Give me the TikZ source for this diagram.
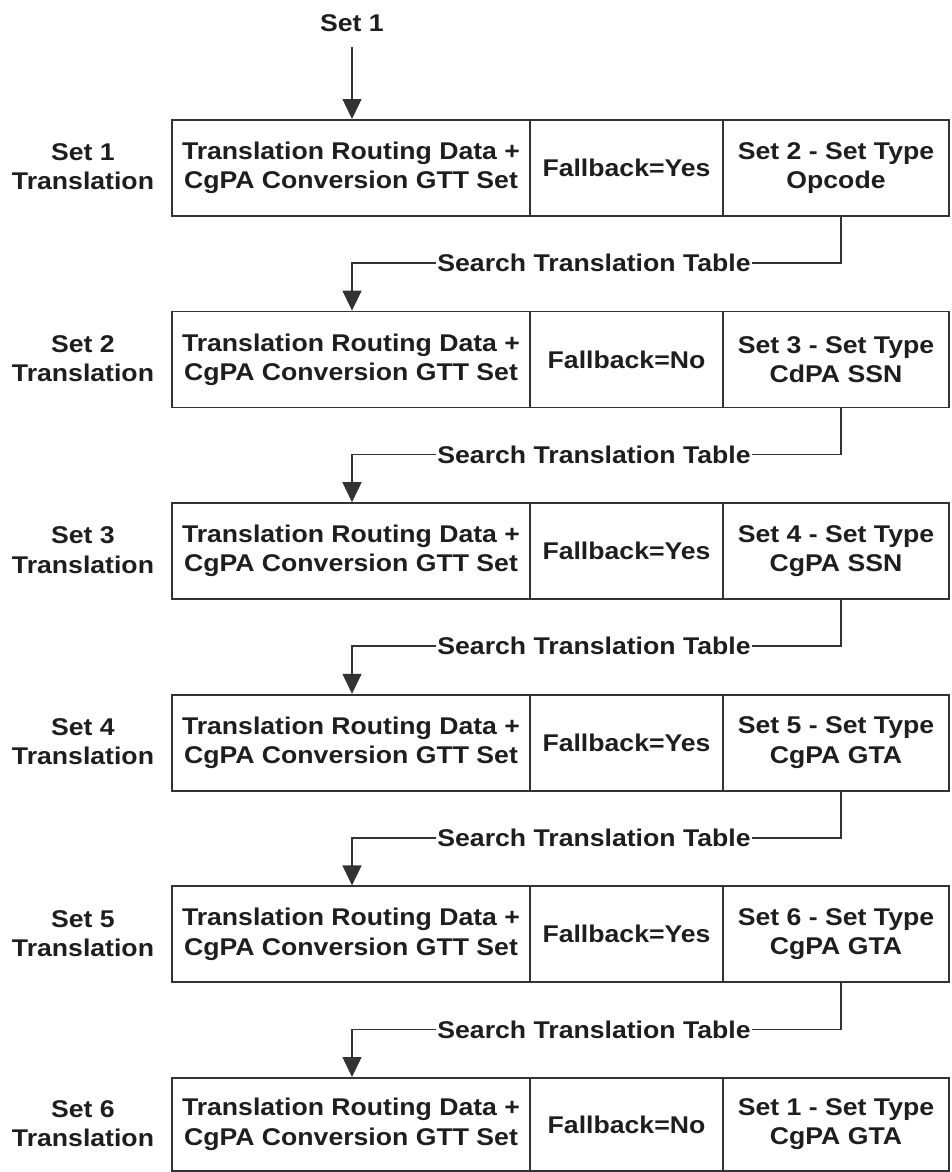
\documentclass[tikz,border=0pt]{standalone}
\usepackage{fontspec}
\newfontfamily\dfont{Liberation Sans}[FakeStretch=1.1]
\usetikzlibrary{arrows.meta}
\definecolor{ink}{HTML}{1E1E1E}
\definecolor{edge}{HTML}{333333}
\tikzset{
  txt/.style={font=\dfont\bfseries\fontsize{24.2}{29.3}\selectfont, text=ink, align=center, inner sep=1pt},
  cell/.style={txt, draw=edge, line width=1.8pt, inner sep=0pt, anchor=north},
  conn/.style={draw=edge, line width=1.5pt},
  arr/.style={conn, -{Triangle[length=20pt,width=19pt]}}
}
\newcommand{\tblrow}[6]{%
  \node[txt] (lbl-#1) at (83,#2+#6/2) {Set #1\\Translation};
  \node[cell, minimum width=358pt, minimum height=#6 pt] (c1-#1) at (351,#2) {Translation Routing Data +\\CgPA Conversion GTT Set};
  \node[cell, minimum width=193pt, minimum height=#6 pt] (c2-#1) at (626.5,#2) {Fallback=#3};
  \node[cell, minimum width=226pt, minimum height=#6 pt] (c3-#1) at (836,#2) {#4\\#5};
}
\begin{document}
\begin{tikzpicture}[x=1pt,y=-1pt]
\useasboundingbox (0,0) rectangle (951,1172);
\tblrow{1}{119}{Yes}{Set 2 - Set Type}{Opcode}{96}
\tblrow{2}{310.6}{No}{Set 3 - Set Type}{CdPA SSN}{96}
\tblrow{3}{502.2}{Yes}{Set 4 - Set Type}{CgPA SSN}{96}
\tblrow{4}{693.8}{Yes}{Set 5 - Set Type}{CgPA GTA}{96}
\tblrow{5}{885.4}{Yes}{Set 6 - Set Type}{CgPA GTA}{96}
\tblrow{6}{1077}{No}{Set 1 - Set Type}{CgPA GTA}{93}
\node[txt] (start) at (352,23) {Set 1};
\draw[arr] (start.south |- 0,47) -- (start.south |- c1-1.north);
\foreach \i/\j in {1/2,2/3,3/4,4/5,5/6}{
  \node[txt] (s-\i) at (594,{119+191.6*(\i-1)+96+48}) {Search Translation Table};
  \draw[conn] ([xshift=5pt]c3-\i.south) |- (s-\i.east);
  \draw[arr] (s-\i.west) -| ([xshift=1pt]c1-\j.north);
}
\end{tikzpicture}
\end{document}
